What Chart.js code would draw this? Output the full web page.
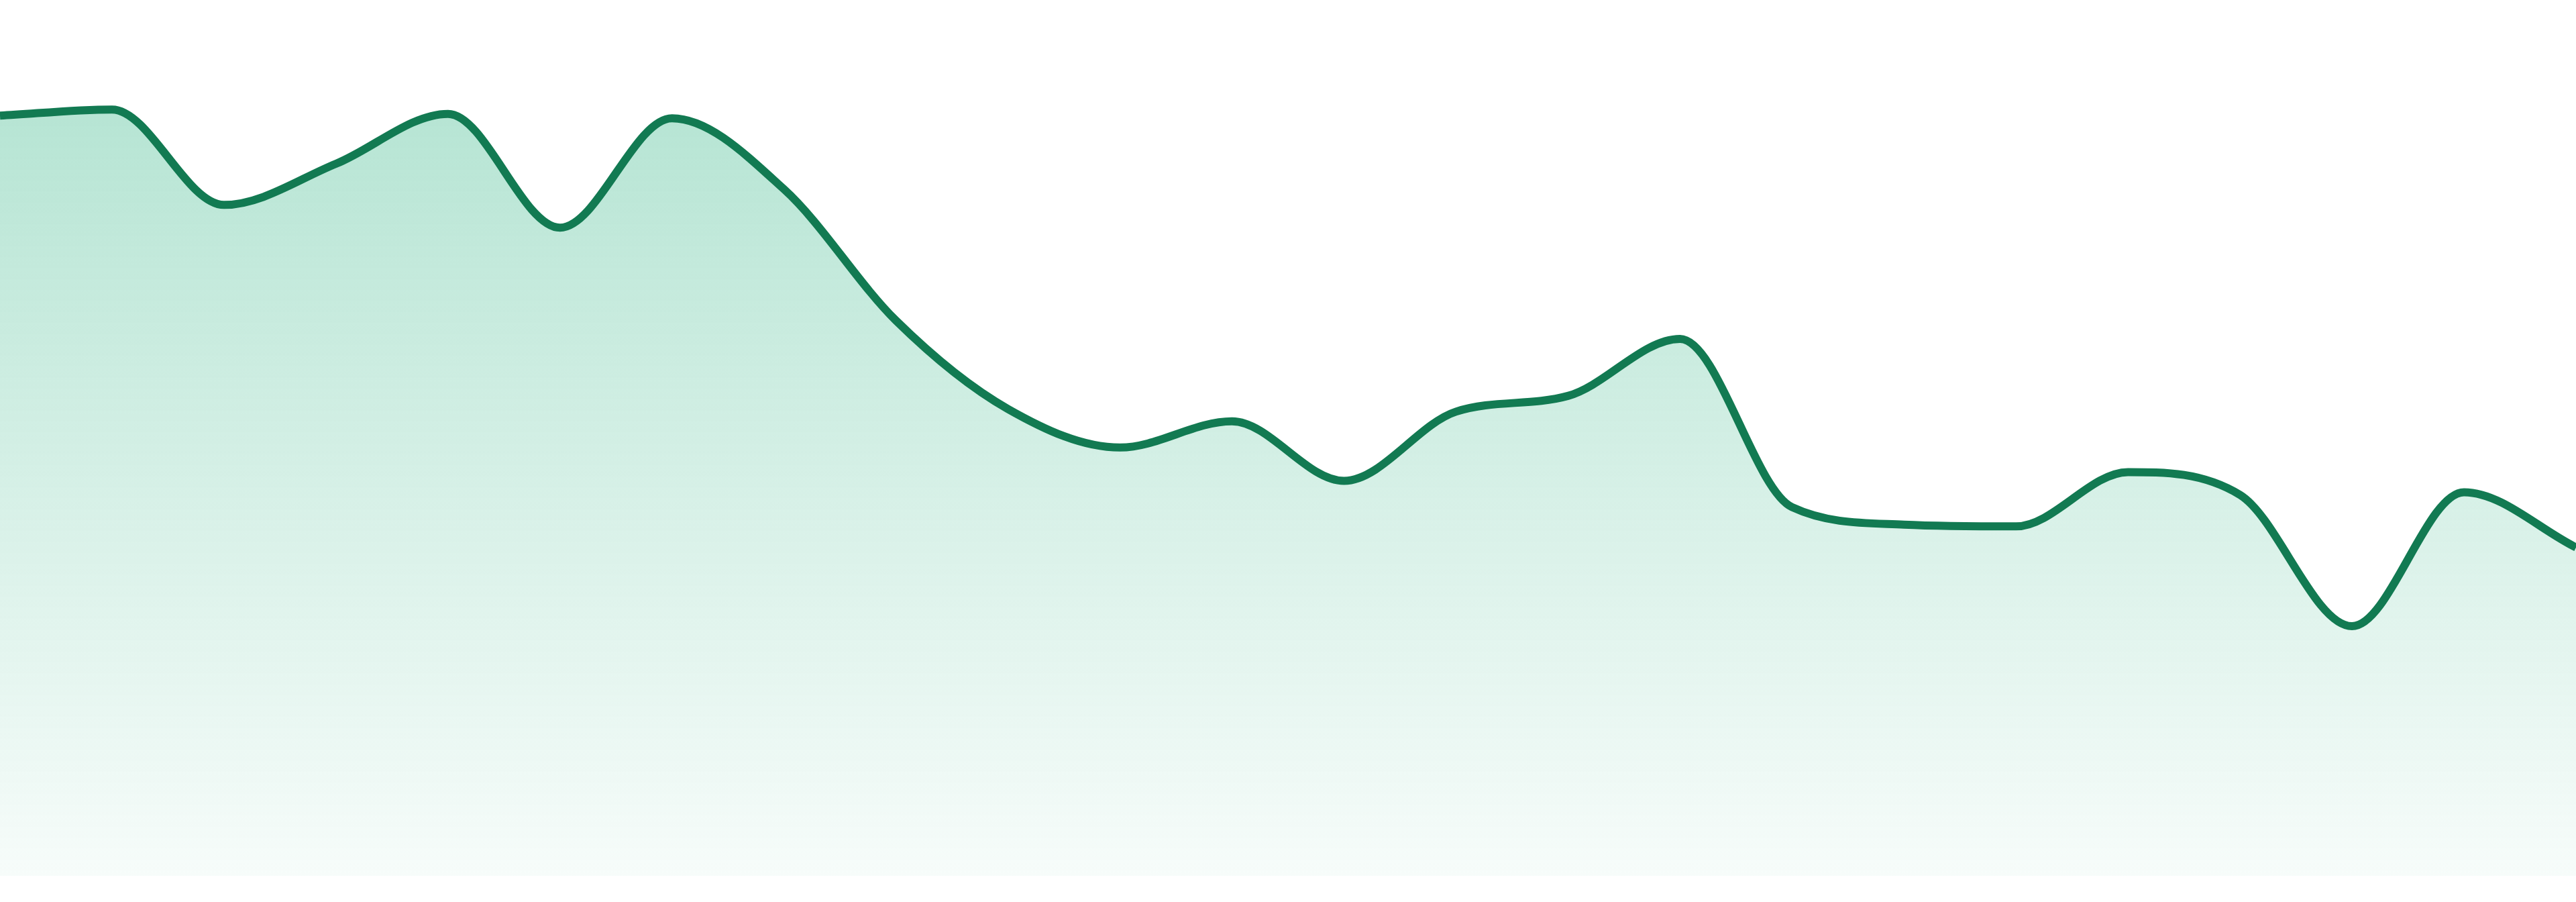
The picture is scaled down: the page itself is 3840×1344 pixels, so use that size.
<!DOCTYPE html>
<html>
<head>
<meta charset="utf-8">
<script src="https://cdn.jsdelivr.net/npm/chart.js@4/dist/chart.umd.min.js"></script>
<style>
  html, body { margin: 0; padding: 0; background: #ffffff; overflow: hidden; }
  #wrap { width: 3840px; height: 1344px; }
</style>
</head>
<body>
<div id="wrap"><canvas id="c" width="3840" height="1344"></canvas></div>
<script>
// Categories (24 evenly spaced points, no visible labels)
const categories = ["1","2","3","4","5","6","7","8","9","10","11","12",
                    "13","14","15","16","17","18","19","20","21","22","23","24"];
// Series values (y axis 0..100)
const seriesValues = [86.8, 87.5, 76.6, 81.3, 87.0, 74.0, 86.5, 78.4,
                      63.4, 53.3, 48.9, 51.9, 45.1, 53.0, 54.8, 61.3,
                      42.1, 40.1, 39.9, 46.1, 43.5, 28.5, 43.8, 37.5];
const yMin = 0;
const yMax = 100;

const ctx = document.getElementById('c').getContext('2d');
new Chart(ctx, {
  type: 'line',
  data: {
    labels: categories,
    datasets: [{
      data: seriesValues,
      borderColor: 'rgb(18,122,82)',
      borderWidth: 12,
      cubicInterpolationMode: 'monotone',
      pointRadius: 0,
      pointHoverRadius: 0,
      fill: 'start',
      backgroundColor: function(context) {
        const chart = context.chart;
        const area = chart.chartArea;
        if (!area) return 'rgba(20,170,115,0.2)';
        const g = chart.ctx.createLinearGradient(0, area.top, 0, area.bottom);
        g.addColorStop(0, 'rgba(20,170,115,0.35)');
        g.addColorStop(1, 'rgba(20,170,115,0.035)');
        return g;
      }
    }]
  },
  options: {
    responsive: false,
    devicePixelRatio: 1,
    animation: false,
    layout: { padding: { top: 0, left: 0, right: 0, bottom: 39 } },
    plugins: { legend: { display: false }, tooltip: { enabled: false }, title: { display: false } },
    scales: {
      x: { display: false, offset: false },
      y: { display: false, min: yMin, max: yMax }
    }
  }
});
</script>
</body>
</html>
